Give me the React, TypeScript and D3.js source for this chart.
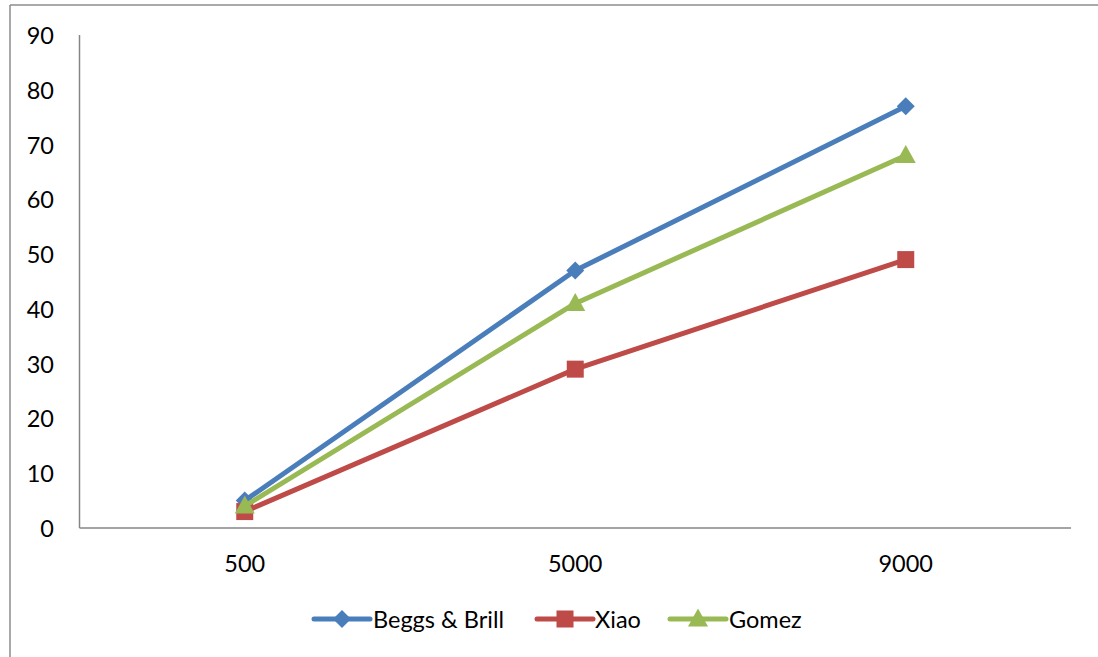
import React, { useEffect } from "react";
import * as d3 from "d3";

const categories = ["500", "5000", "9000"];
const yTicks = [0, 10, 20, 30, 40, 50, 60, 70, 80, 90];
const seriesNames = ["Beggs & Brill", "Xiao", "Gomez"];
const beggsBrill = [5, 47, 77];
const xiao = [3, 29, 49];
const gomez = [4, 41, 68];

const W = 1098;
const H = 657;
const FONT = "Lato, 'Liberation Sans', sans-serif";
const FS = 23.5;

const series = [
  { name: seriesNames[0], values: beggsBrill, color: "#4A7EBB", marker: "diamond" },
  { name: seriesNames[1], values: xiao, color: "#BE4B48", marker: "square" },
  { name: seriesNames[2], values: gomez, color: "#98B954", marker: "triangle" },
];

function Marker({ type, x, y, color }: { type: string; x: number; y: number; color: string }) {
  if (type === "diamond") {
    const r = 9;
    return <path d={`M${x},${y - r}L${x + r},${y}L${x},${y + r}L${x - r},${y}Z`} fill={color} />;
  }
  if (type === "square") {
    const s = 17;
    return <rect x={x - s / 2} y={y - s / 2} width={s} height={s} fill={color} />;
  }
  const w = 20;
  const h = 17;
  return <path d={`M${x},${y - h / 2 - 2}L${x + w / 2},${y + h / 2 - 1}L${x - w / 2},${y + h / 2 - 1}Z`} fill={color} />;
}

export default function App() {
  useEffect(() => {
    document.body.style.margin = "0";
  }, []);

  const x = d3.scaleBand().domain(categories).range([79.5, 1071]).padding(0);
  const y = d3.scaleLinear().domain([0, 90]).range([528, 35]);
  const cx = (c: string) => (x(c) as number) + x.bandwidth() / 2;

  const line = d3
    .line<number>()
    .x((_, i) => cx(categories[i]))
    .y((v) => y(v));

  const legendItems = [
    { lx: 314, tx: 373 },
    { lx: 537, tx: 595 },
    { lx: 670, tx: 729 },
  ];
  const legendY = 619;

  return (
    <svg width={W} height={H} style={{ display: "block" }} fontFamily={FONT}>
      <rect width={W} height={H} fill="#fff" />
      {/* outer frame */}
      <line x1={10} y1={5} x2={W} y2={5} stroke="#8c8c8c" strokeWidth={1.5} />
      <line x1={10} y1={5} x2={10} y2={H} stroke="#8c8c8c" strokeWidth={1.5} />

      {/* axes */}
      <line x1={79.5} y1={y(90)} x2={79.5} y2={y(0)} stroke="#868686" strokeWidth={1.5} />
      <line x1={79.5} y1={y(0)} x2={1071} y2={y(0)} stroke="#868686" strokeWidth={1.5} />

      {yTicks.map((t) => (
        <text key={t} x={54} y={y(t)} textAnchor="end" dominantBaseline="central" fontSize={FS} fill="#000">
          {t}
        </text>
      ))}
      {categories.map((c) => (
        <text key={c} x={cx(c)} y={563} textAnchor="middle" dominantBaseline="central" fontSize={FS} fill="#000">
          {c}
        </text>
      ))}

      {series.map((s) => (
        <g key={s.name}>
          <path d={line(s.values) || ""} fill="none" stroke={s.color} strokeWidth={5} strokeLinejoin="round" />
          {s.values.map((v, i) => (
            <Marker key={i} type={s.marker} x={cx(categories[i])} y={y(v)} color={s.color} />
          ))}
        </g>
      ))}

      {/* legend */}
      {series.map((s, i) => {
        const it = legendItems[i];
        return (
          <g key={s.name}>
            <line x1={it.lx} y1={legendY} x2={it.lx + 56} y2={legendY} stroke={s.color} strokeWidth={5} strokeLinecap="round" />
            <Marker type={s.marker} x={it.lx + 28} y={legendY} color={s.color} />
            <text x={it.tx} y={legendY} dominantBaseline="central" fontSize={FS} fill="#000">
              {s.name}
            </text>
          </g>
        );
      })}
    </svg>
  );
}
